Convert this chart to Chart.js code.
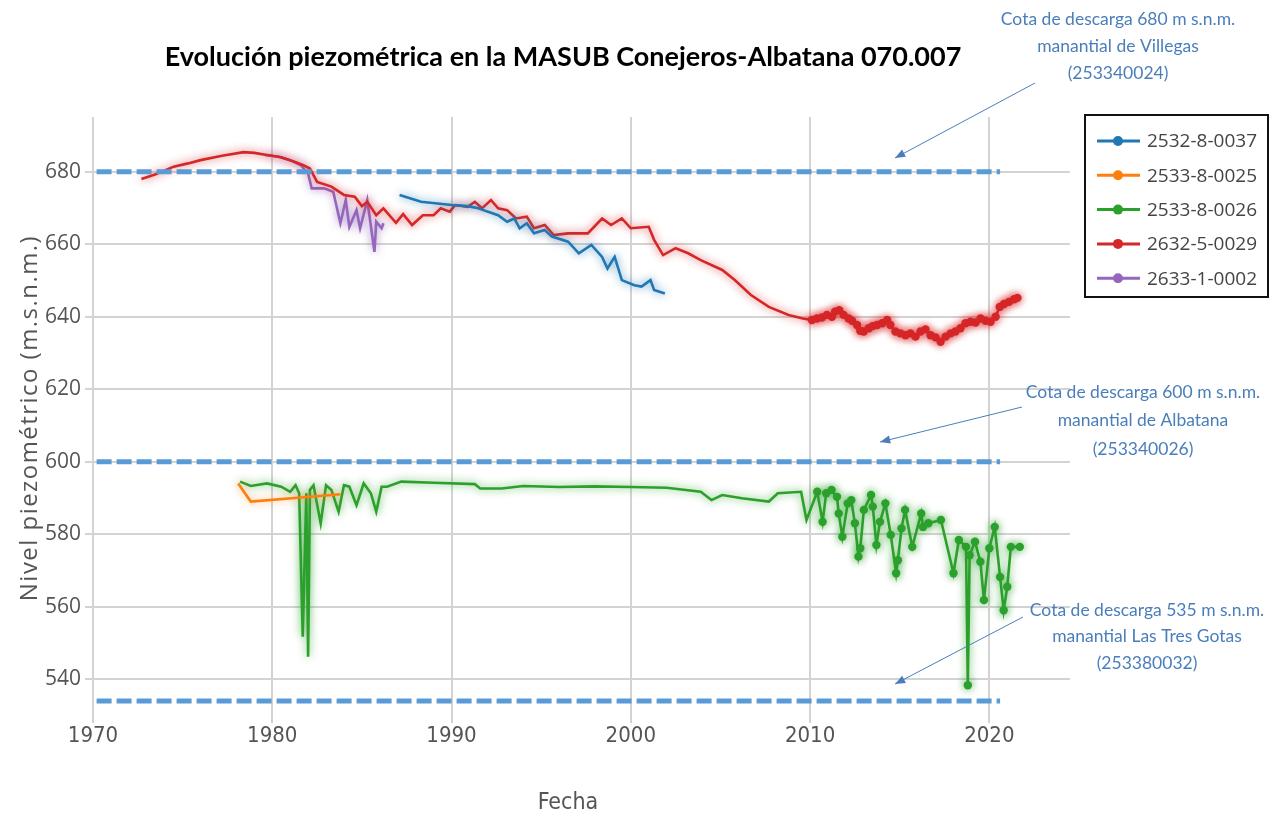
<!DOCTYPE html>
<html>
<head>
<meta charset="utf-8">
<script src="https://cdn.jsdelivr.net/npm/chart.js@4.4.1/dist/chart.umd.min.js"></script>
<style>
  html, body { margin: 0; padding: 0; background: #fff; }
  canvas { display: block; }
</style>
</head>
<body>
<canvas id="chart" width="1272" height="815"></canvas>
<script>
// ticks
const xTicks = [1970, 1980, 1990, 2000, 2010, 2020];
const yTicks = [540, 560, 580, 600, 620, 640, 660, 680];

// 2532-8-0037
const blueYears = [1987.1, 1988.3, 1990.0, 1990.9, 1991.5, 1992.0, 1992.6, 1993.1, 1993.5, 1993.8, 1994.2, 1994.6, 1995.2, 1995.6, 1996.5, 1997.1, 1997.8, 1998.4, 1998.7, 1999.1, 1999.5, 2000.2, 2000.6, 2001.1, 2001.3, 2001.9];
const blueLevels = [673.6, 671.7, 670.8, 670.5, 669.9, 669.0, 668.0, 666.2, 667.1, 664.4, 665.8, 663.0, 663.9, 662.1, 660.7, 657.5, 659.8, 656.5, 653.3, 656.5, 650.1, 648.7, 648.3, 650.1, 647.4, 646.4];

// 2533-8-0025
const orangeYears = [1978.1, 1978.8, 1983.8];
const orangeLevels = [594.0, 589.0, 591.0];

// 2533-8-0026
const greenYears = [1978.2, 1978.8, 1979.7, 1980.5, 1981.0, 1981.3, 1981.5, 1981.7, 1981.9, 1982.0, 1982.1, 1982.3, 1982.7, 1983.0, 1983.3, 1983.7, 1984.0, 1984.3, 1984.7, 1985.1, 1985.5, 1985.8, 1986.1, 1986.4, 1987.2, 1989.0, 1991.3, 1991.6, 1992.8, 1994.0, 1996.0, 1998.0, 2000.0, 2002.0, 2003.9, 2004.5, 2005.1, 2006.2, 2007.7, 2008.2, 2009.5, 2009.8, 2010.4, 2010.7, 2010.9, 2011.2, 2011.5, 2011.6, 2011.8, 2012.1, 2012.3, 2012.5, 2012.7, 2012.8, 2013.0, 2013.4, 2013.5, 2013.7, 2013.9, 2014.2, 2014.5, 2014.8, 2014.9, 2015.1, 2015.3, 2015.7, 2016.2, 2016.3, 2016.6, 2017.3, 2018.0, 2018.3, 2018.7, 2018.8, 2018.9, 2019.2, 2019.5, 2019.7, 2020.0, 2020.3, 2020.6, 2020.8, 2021.0, 2021.2, 2021.7];
const greenLevels = [594.5, 593.3, 594.0, 593.1, 591.7, 593.5, 591.3, 551.7, 591.3, 546.2, 592.2, 593.5, 583.0, 593.5, 592.2, 586.2, 593.5, 593.1, 588.0, 594.0, 591.3, 586.2, 593.1, 593.1, 594.5, 594.2, 593.8, 592.6, 592.6, 593.3, 593.0, 593.2, 593.0, 592.8, 591.7, 589.4, 590.8, 589.9, 589.0, 591.3, 591.7, 583.9, 591.7, 583.4, 591.3, 592.2, 590.3, 585.7, 579.3, 588.5, 589.4, 583.0, 573.8, 576.1, 586.7, 590.8, 587.6, 577.0, 583.4, 588.5, 579.8, 569.2, 572.8, 581.6, 586.7, 576.5, 585.7, 582.0, 583.0, 583.9, 569.2, 578.4, 576.5, 538.3, 574.2, 577.9, 572.4, 561.8, 576.1, 582.0, 568.2, 559.0, 565.5, 576.5, 576.5];

// 2632-5-0029
const redYears = [1972.7, 1973.5, 1974.5, 1975.3, 1976.0, 1977.2, 1978.4, 1979.0, 1979.7, 1980.5, 1981.2, 1981.7, 1982.1, 1982.5, 1983.3, 1984.0, 1984.6, 1985.0, 1985.3, 1985.8, 1986.2, 1986.9, 1987.3, 1987.8, 1988.4, 1989.0, 1989.4, 1989.9, 1990.2, 1990.9, 1991.3, 1991.7, 1992.2, 1992.6, 1993.1, 1993.6, 1994.2, 1994.6, 1995.2, 1995.7, 1996.5, 1997.6, 1998.4, 1998.9, 1999.5, 2000.0, 2001.0, 2001.3, 2001.8, 2002.5, 2003.2, 2003.9, 2005.1, 2005.8, 2006.7, 2007.7, 2008.8, 2009.6, 2010.10, 2010.38, 2010.66, 2010.94, 2011.22, 2011.40, 2011.63, 2011.87, 2012.15, 2012.34, 2012.62, 2012.80, 2012.99, 2013.27, 2013.49, 2013.74, 2014.02, 2014.30, 2014.48, 2014.76, 2015.04, 2015.32, 2015.60, 2015.88, 2016.16, 2016.44, 2016.72, 2017.00, 2017.28, 2017.56, 2017.84, 2018.11, 2018.39, 2018.67, 2018.95, 2019.23, 2019.51, 2019.79, 2020.07, 2020.35, 2020.58, 2020.82, 2021.10, 2021.38, 2021.57];
const redLevels = [678.0, 679.3, 681.4, 682.3, 683.2, 684.4, 685.4, 685.2, 684.6, 684.0, 682.8, 681.9, 680.9, 677.2, 675.9, 673.6, 673.1, 670.5, 671.7, 668.0, 669.9, 665.9, 668.3, 665.3, 668.0, 668.0, 669.9, 669.0, 670.8, 670.3, 671.7, 669.9, 672.2, 669.9, 669.4, 667.1, 667.6, 664.4, 665.3, 662.5, 663.0, 663.0, 667.1, 665.3, 667.1, 664.4, 664.8, 661.2, 657.0, 658.9, 657.5, 655.6, 652.9, 650.1, 646.0, 642.7, 640.5, 639.5, 639.1, 639.5, 639.8, 640.5, 640.0, 641.4, 641.8, 640.5, 639.5, 638.9, 637.7, 636.1, 635.9, 636.8, 637.4, 637.7, 638.2, 639.1, 637.7, 635.9, 635.4, 634.9, 635.4, 634.5, 635.9, 636.5, 634.9, 634.3, 633.1, 634.5, 635.4, 635.9, 636.8, 638.2, 638.6, 638.4, 639.5, 638.9, 638.6, 640.0, 642.7, 643.5, 644.1, 644.8, 645.2];

// 2633-1-0002
const purpleYears = [1979.6, 1980.3, 1981.0, 1981.6, 1982.0, 1982.2, 1982.9, 1983.4, 1983.8, 1984.1, 1984.3, 1984.7, 1984.9, 1985.3, 1985.7, 1985.8, 1986.1, 1986.2];
const purpleLevels = [684.6, 684.2, 683.2, 681.8, 679.5, 675.4, 675.4, 674.5, 665.8, 672.2, 664.8, 669.4, 664.4, 672.2, 657.9, 666.2, 664.4, 665.8];

// discharge levels (dashed)
const dischargeLevels = [680, 600, 534];
const dischargeSpan = [1970.2, 2020.6];

const stations = [
  { name: '2532-8-0037', years: blueYears, levels: blueLevels, color: '#1f77b4', glow: 'rgba(31,119,180,0.8)' },
  { name: '2533-8-0025', years: orangeYears, levels: orangeLevels, color: '#ff7f0e', glow: 'rgba(255,127,14,0.6)' },
  { name: '2533-8-0026', years: greenYears, levels: greenLevels, color: '#2ca02c', glow: 'rgba(44,160,44,0.8)' },
  { name: '2632-5-0029', years: redYears, levels: redLevels, color: '#d62728', glow: 'rgba(214,39,40,0.8)' },
  { name: '2633-1-0002', years: purpleYears, levels: purpleLevels, color: '#9467bd', glow: 'rgba(148,103,189,0.8)' }
];

const datasets = [];
dischargeLevels.forEach(v => {
  datasets.push({
    label: 'cota ' + v,
    data: dischargeSpan.map(x => ({ x: x, y: v })),
    borderColor: '#5b9bd5',
    borderWidth: 5,
    borderDash: [15, 5],
    pointRadius: 0,
    glow: null
  });
});
stations.forEach(s => {
  datasets.push({
    label: s.name,
    data: s.years.map((x, i) => ({ x: x, y: s.levels[i] })),
    borderColor: s.color,
    backgroundColor: s.color,
    borderWidth: 2.6,
    pointRadius: ctx => (ctx.raw && ctx.raw.x >= 2009.9 ? 4.2 : 0),
    pointBorderWidth: 0,
    glow: s.glow
  });
});

const glowPlugin = {
  id: 'glow',
  beforeDatasetDraw(chart, args) {
    const ds = chart.data.datasets[args.index];
    chart.ctx.save();
    if (ds.glow) {
      chart.ctx.shadowColor = ds.glow;
      chart.ctx.shadowBlur = 9;
    }
  },
  afterDatasetDraw(chart) {
    chart.ctx.restore();
  }
};

function fitFont(ctx, text, weight, family, target) {
  ctx.font = weight + ' 20px ' + family;
  const w = ctx.measureText(text).width;
  return 20 * target / w;
}

function arrow(ctx, x1, y1, x2, y2) {
  const a = Math.atan2(y2 - y1, x2 - x1);
  ctx.beginPath();
  ctx.moveTo(x1, y1);
  ctx.lineTo(x2, y2);
  ctx.stroke();
  ctx.beginPath();
  ctx.moveTo(x2, y2);
  ctx.lineTo(x2 - 11 * Math.cos(a - 0.38), y2 - 11 * Math.sin(a - 0.38));
  ctx.lineTo(x2 - 11 * Math.cos(a + 0.38), y2 - 11 * Math.sin(a + 0.38));
  ctx.closePath();
  ctx.fill();
}

const narrow = '"Liberation Sans Narrow", "DejaVu Sans Condensed", Roboto';

const decoPlugin = {
  id: 'deco',
  afterDraw(chart) {
    const ctx = chart.ctx;
    ctx.save();
    // title
    const title = 'Evolución piezométrica en la MASUB Conejeros-Albatana 070.007';
    const ts = fitFont(ctx, title, 'bold', 'Lato', 797);
    ctx.font = 'bold ' + ts + 'px Lato';
    ctx.fillStyle = '#000';
    ctx.textAlign = 'center';
    ctx.textBaseline = 'middle';
    ctx.fillText(title, 563, 57);

    // axis titles
    ctx.fillStyle = '#555';
    ctx.font = '23px ' + narrow;
    ctx.fillText('Fecha', 568, 803);
    ctx.save();
    ctx.translate(30, 418);
    ctx.rotate(-Math.PI / 2);
    ctx.letterSpacing = '1.5px';
    const yt = 'Nivel piezométrico (m.s.n.m.)';
    const ys = fitFont(ctx, yt, 'normal', '"Open Sans"', 375);
    ctx.font = ys + 'px "Open Sans"';
    ctx.fillText(yt, 0, 0);
    ctx.restore();

    // annotations
    const notes = [
      { cx: 1118, ys: [19, 46, 73], lines: ['Cota de descarga 680 m s.n.m.', 'manantial de Villegas', '(253340024)'], from: [1035, 83], to: [895, 158] },
      { cx: 1143, ys: [392, 420, 449], lines: ['Cota de descarga 600 m s.n.m.', 'manantial de Albatana', '(253340026)'], from: [1022, 407], to: [880, 442] },
      { cx: 1147, ys: [610, 636, 663], lines: ['Cota de descarga 535 m s.n.m.', 'manantial Las Tres Gotas', '(253380032)'], from: [1023, 617], to: [895, 684] }
    ];
    ctx.font = '17.5px Lato';
    ctx.fillStyle = '#4a7ebb';
    notes.forEach(n => {
      n.lines.forEach((t, i) => ctx.fillText(t, n.cx, n.ys[i]));
    });
    ctx.strokeStyle = '#4a7ebb';
    ctx.fillStyle = '#4a7ebb';
    ctx.lineWidth = 1;
    notes.forEach(n => arrow(ctx, n.from[0], n.from[1], n.to[0], n.to[1]));

    // legend
    ctx.fillStyle = '#fff';
    ctx.fillRect(1085, 115, 183, 182);
    ctx.strokeStyle = '#111';
    ctx.lineWidth = 2;
    ctx.strokeRect(1085, 115, 183, 182);
    ctx.font = '19px "Open Sans"';
    ctx.textAlign = 'left';
    stations.forEach((s, i) => {
      const y = 141 + i * 34.3;
      ctx.strokeStyle = s.color;
      ctx.lineWidth = 3;
      ctx.beginPath();
      ctx.moveTo(1097, y);
      ctx.lineTo(1140, y);
      ctx.stroke();
      ctx.fillStyle = s.color;
      ctx.beginPath();
      ctx.arc(1118, y, 5, 0, Math.PI * 2);
      ctx.fill();
      ctx.fillStyle = '#444';
      ctx.fillText(s.name, 1147, y + 1);
    });
    ctx.restore();
  }
};

new Chart(document.getElementById('chart').getContext('2d'), {
  type: 'line',
  data: { datasets: datasets },
  options: {
    responsive: false,
    animation: false,
    devicePixelRatio: 1,
    layout: { padding: { top: 117, right: 202, bottom: 0, left: 0 } },
    plugins: {
      legend: { display: false },
      title: { display: false },
      tooltip: { enabled: false }
    },
    scales: {
      x: {
        type: 'linear',
        min: 1970,
        max: 2024.5,
        afterBuildTicks: s => { s.ticks = xTicks.map(v => ({ value: v })); },
        afterFit: s => { s.height = 92; },
        grid: { color: '#d3d3d3', lineWidth: 2, drawTicks: false },
        border: { display: false },
        ticks: {
          color: '#555',
          font: { family: narrow, size: 22 },
          padding: 0,
          maxRotation: 0,
          callback: v => String(v)
        }
      },
      y: {
        type: 'linear',
        min: 527.9,
        max: 695.1,
        afterBuildTicks: s => { s.ticks = yTicks.map(v => ({ value: v })); },
        afterFit: s => { s.width = 93; },
        grid: { color: '#d3d3d3', lineWidth: 2, tickLength: 8 },
        border: { display: false },
        ticks: {
          color: '#555',
          font: { family: '"Open Sans"', size: 21 },
          padding: 4
        }
      }
    }
  },
  plugins: [glowPlugin, decoPlugin]
});
</script>
</body>
</html>
